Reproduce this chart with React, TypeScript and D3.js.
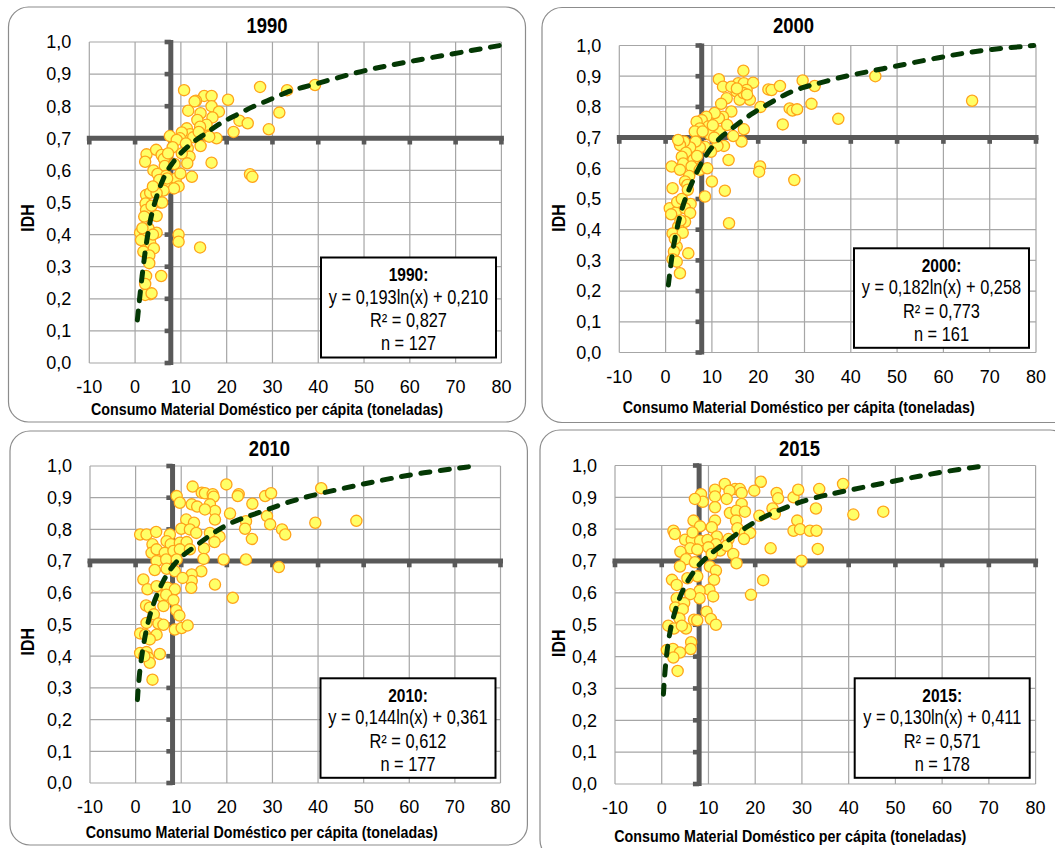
import React from 'react';
import * as d3 from 'd3';

// ---------- DATA ----------
const years = ['1990', '2000', '2010', '2015'];
const equations = ['y = 0,193ln(x) + 0,210', 'y = 0,182ln(x) + 0,258', 'y = 0,144ln(x) + 0,361', 'y = 0,130ln(x) + 0,411'];
const r2Labels = ['R² = 0,827', 'R² = 0,773', 'R² = 0,612', 'R² = 0,571'];
const nLabels = ['n = 127', 'n = 161', 'n = 177', 'n = 178'];
const xTicks = [-10, 0, 10, 20, 30, 40, 50, 60, 70, 80];
const yTicks = [0, 0.1, 0.2, 0.3, 0.4, 0.5, 0.6, 0.7, 0.8, 0.9, 1.0];
const refX = [7.8, 7.8, 8.1, 8.0];
const refY = [0.7, 0.7, 0.7, 0.7];
const xTitle = 'Consumo Material Doméstico per cápita (toneladas)';
const yTitle = 'IDH';

const pts1990: [number, number][] = [
  [10.7, 0.85], [27.3, 0.86], [33.2, 0.85], [39.3, 0.866], [20.3, 0.82], [31.5, 0.78], [22.8, 0.755], [24.6, 0.747],
  [21.5, 0.72], [29.2, 0.728], [16.7, 0.624], [25.1, 0.588], [25.6, 0.58], [12.4, 0.58], [9.5, 0.4], [9.5, 0.378],
  [14.2, 0.36], [5.7, 0.271], [15.1, 0.832], [16.7, 0.832], [13.3, 0.817], [13.0, 0.815], [16.7, 0.8], [18.3, 0.783],
  [11.6, 0.786], [14.3, 0.778], [13.6, 0.757], [16.9, 0.765], [15.6, 0.742], [14.2, 0.736], [17.8, 0.7], [15.9, 0.707],
  [11.3, 0.731], [12.0, 0.713], [12.7, 0.703], [14.3, 0.676], [10.2, 0.718], [9.8, 0.7], [7.6, 0.707], [9.1, 0.695],
  [8.2, 0.672], [11.5, 0.669], [11.9, 0.643], [11.4, 0.622], [10.2, 0.653], [11.1, 0.684], [2.5, 0.65], [2.2, 0.627],
  [4.6, 0.664], [5.8, 0.648], [6.3, 0.636], [7.2, 0.653], [6.5, 0.614], [4.0, 0.6], [4.9, 0.589], [6.8, 0.583],
  [8.9, 0.575], [5.3, 0.57], [9.5, 0.55], [7.2, 0.547], [8.5, 0.544], [6.2, 0.537], [2.4, 0.523], [3.3, 0.53],
  [2.3, 0.497], [4.7, 0.529], [5.5, 0.5], [2.4, 0.477], [4.7, 0.458], [2.0, 0.456], [1.1, 0.406], [2.2, 0.406],
  [4.7, 0.406], [2.0, 0.378], [3.3, 0.375], [4.1, 0.357], [1.8, 0.347], [3.1, 0.335], [3.1, 0.311], [2.4, 0.271],
  [2.2, 0.246], [3.3, 0.214], [2.2, 0.212], [3.6, 0.217], [2.9, 0.42], [3.9, 0.4], [1.3, 0.383], [13.9, 0.72],
  [16.2, 0.705], [8.6, 0.62], [9.9, 0.59], [7.0, 0.575], [5.9, 0.5], [3.6, 0.49], [1.6, 0.42], [3.9, 0.55],
];
const pts2000: [number, number][] = [
  [16.8, 0.918], [11.5, 0.89], [12.4, 0.866], [13.2, 0.828], [15.7, 0.877], [16.9, 0.877], [18.9, 0.879], [15.3, 0.85],
  [17.5, 0.855], [18.2, 0.823], [16.0, 0.823], [14.2, 0.866], [16.8, 0.845], [22.2, 0.857], [22.9, 0.855], [24.7, 0.868],
  [29.6, 0.886], [32.2, 0.868], [45.3, 0.9], [20.5, 0.8], [26.8, 0.795], [27.4, 0.788], [28.4, 0.792], [31.5, 0.81],
  [37.3, 0.761], [25.3, 0.743], [66.2, 0.82], [14.2, 0.785], [12.4, 0.768], [11.5, 0.763], [10.6, 0.78], [8.8, 0.768],
  [7.8, 0.757], [6.7, 0.752], [9.2, 0.736], [7.4, 0.73], [6.3, 0.72], [9.6, 0.709], [11.7, 0.72], [13.3, 0.741],
  [16.9, 0.727], [16.4, 0.687], [14.6, 0.705], [12.6, 0.673], [11.2, 0.673], [9.8, 0.654], [8.5, 0.67], [7.4, 0.668],
  [6.5, 0.687], [5.3, 0.668], [4.0, 0.687], [3.1, 0.676], [2.7, 0.692], [4.4, 0.651], [3.5, 0.638], [6.0, 0.627],
  [3.8, 0.616], [5.6, 0.606], [7.4, 0.595], [1.3, 0.606], [3.1, 0.595], [5.1, 0.575], [4.2, 0.557], [1.5, 0.535],
  [10.0, 0.557], [12.8, 0.527], [13.6, 0.627], [20.4, 0.606], [20.2, 0.589], [27.8, 0.562], [8.5, 0.508], [13.7, 0.421],
  [4.7, 0.546], [5.4, 0.484], [0.9, 0.47], [2.2, 0.456], [4.2, 0.47], [5.3, 0.454], [4.2, 0.426], [2.7, 0.41],
  [1.5, 0.388], [3.7, 0.39], [2.4, 0.345], [1.8, 0.329], [4.9, 0.323], [1.5, 0.304], [2.4, 0.296], [3.1, 0.258],
  [1.2, 0.45], [2.5, 0.49], [3.5, 0.5], [2.0, 0.37], [3.2, 0.43], [4.8, 0.53], [6.8, 0.64], [8.0, 0.72],
  [10.2, 0.74], [12.0, 0.81], [17.6, 0.84], [15.4, 0.86], [9.0, 0.6], [10.5, 0.7],
];
const pts2010: [number, number][] = [
  [12.5, 0.935], [19.9, 0.942], [9.0, 0.905], [9.7, 0.884], [14.5, 0.916], [15.2, 0.914], [16.9, 0.911], [17.1, 0.903],
  [22.6, 0.911], [22.4, 0.905], [28.4, 0.905], [29.7, 0.914], [12.3, 0.879], [13.5, 0.872], [16.3, 0.879], [17.4, 0.858],
  [15.2, 0.863], [20.7, 0.85], [25.6, 0.881], [28.8, 0.842], [29.5, 0.816], [24.2, 0.826], [24.0, 0.802], [25.5, 0.77],
  [32.1, 0.8], [32.8, 0.784], [17.4, 0.831], [11.1, 0.831], [12.8, 0.821], [10.0, 0.802], [11.9, 0.8], [13.3, 0.789],
  [16.3, 0.789], [18.4, 0.777], [17.3, 0.76], [15.0, 0.74], [14.9, 0.707], [14.4, 0.668], [12.3, 0.658], [12.3, 0.637],
  [12.2, 0.616], [17.4, 0.626], [21.3, 0.584], [19.3, 0.705], [24.2, 0.705], [31.4, 0.681], [1.0, 0.784], [2.4, 0.784],
  [4.5, 0.792], [7.5, 0.784], [3.7, 0.753], [6.8, 0.763], [7.7, 0.753], [9.7, 0.758], [11.2, 0.76], [3.5, 0.726],
  [4.6, 0.737], [6.4, 0.726], [8.3, 0.732], [9.7, 0.737], [11.9, 0.737], [4.6, 0.7], [6.7, 0.705], [9.0, 0.705],
  [4.2, 0.672], [6.8, 0.676], [8.6, 0.668], [10.3, 0.647], [1.7, 0.642], [2.6, 0.611], [4.6, 0.621], [7.0, 0.616],
  [8.6, 0.611], [5.7, 0.589], [6.7, 0.594], [8.3, 0.577], [2.3, 0.56], [3.1, 0.553], [6.1, 0.558], [8.9, 0.545],
  [9.6, 0.528], [4.0, 0.532], [2.4, 0.505], [5.0, 0.503], [6.1, 0.499], [8.6, 0.484], [10.1, 0.489], [11.4, 0.497],
  [1.0, 0.472], [2.1, 0.468], [4.6, 0.468], [3.1, 0.453], [1.0, 0.41], [2.4, 0.413], [5.3, 0.407], [2.8, 0.395],
  [3.1, 0.379], [3.7, 0.326], [1.9, 0.4], [48.4, 0.827], [39.4, 0.821], [40.7, 0.93],
];
const pts2015: [number, number][] = [
  [13.5, 0.942], [21.2, 0.949], [11.4, 0.924], [15.7, 0.926], [16.7, 0.926], [14.5, 0.921], [17.1, 0.914], [8.4, 0.91],
  [11.4, 0.903], [13.9, 0.895], [8.8, 0.886], [19.8, 0.921], [24.6, 0.914], [24.9, 0.897], [28.2, 0.9], [29.2, 0.924],
  [33.7, 0.926], [38.8, 0.942], [17.1, 0.879], [11.4, 0.869], [7.1, 0.895], [14.6, 0.851], [16.0, 0.858], [17.8, 0.855],
  [23.7, 0.865], [24.2, 0.848], [20.9, 0.842], [33.0, 0.865], [11.4, 0.827], [10.7, 0.806], [6.8, 0.827], [8.2, 0.809],
  [15.9, 0.827], [16.2, 0.803], [17.8, 0.79], [18.9, 0.788], [29.0, 0.827], [28.2, 0.795], [29.6, 0.8], [31.7, 0.795],
  [33.1, 0.795], [2.5, 0.795], [2.8, 0.785], [5.0, 0.767], [6.4, 0.767], [6.6, 0.79], [11.8, 0.777], [8.2, 0.764],
  [9.8, 0.766], [11.6, 0.753], [14.3, 0.769], [17.6, 0.769], [10.0, 0.743], [12.5, 0.733], [13.9, 0.748], [6.1, 0.74],
  [4.0, 0.729], [7.6, 0.736], [10.7, 0.722], [15.3, 0.722], [5.2, 0.706], [3.9, 0.683], [7.1, 0.696], [10.3, 0.683],
  [16.0, 0.693], [23.3, 0.74], [33.4, 0.738], [29.9, 0.701], [11.6, 0.67], [11.2, 0.641], [7.6, 0.652], [5.5, 0.646],
  [2.2, 0.641], [3.2, 0.625], [21.7, 0.64], [19.1, 0.594], [10.2, 0.61], [11.0, 0.589], [8.1, 0.607], [8.1, 0.583],
  [6.1, 0.596], [3.2, 0.583], [4.8, 0.568], [2.9, 0.554], [4.5, 0.549], [9.6, 0.541], [10.5, 0.518], [11.6, 0.5],
  [6.9, 0.516], [7.6, 0.514], [3.8, 0.52], [1.4, 0.497], [2.6, 0.488], [5.2, 0.488], [4.3, 0.497], [1.1, 0.421],
  [2.4, 0.424], [6.3, 0.445], [6.2, 0.424], [3.9, 0.413], [2.5, 0.397], [3.4, 0.355], [41.0, 0.846], [47.4, 0.855],
];

// trend lines
const trend1990: [number, number][] = [
  [0.5, 0.134], [1.1, 0.217], [1.8, 0.305], [2.5, 0.378], [3.3, 0.446], [4.4, 0.508], [6.2, 0.58], [8.0, 0.622],
  [10.2, 0.658], [12.7, 0.69], [15.6, 0.716], [18.5, 0.747], [22.2, 0.773], [25.8, 0.8], [29.5, 0.82], [33.1, 0.845],
  [36.7, 0.859], [40.4, 0.873], [50.2, 0.913], [59.8, 0.939], [80, 0.99],
];
const trend2000: [number, number][] = [
  [0.6, 0.22], [1.3, 0.312], [2.4, 0.405], [3.8, 0.486], [5.6, 0.551], [7.8, 0.622], [9.9, 0.669], [12.4, 0.709],
  [15.3, 0.741], [18.6, 0.779], [22.5, 0.812], [26.1, 0.844], [29.7, 0.864], [32.6, 0.875], [36.9, 0.893], [40.1, 0.904],
  [45.5, 0.92], [59.6, 0.963], [68.3, 0.985], [79.5, 1.0],
];
const trend2010: [number, number][] = [
  [0.4, 0.263], [0.8, 0.347], [1.7, 0.437], [2.8, 0.516], [4.2, 0.579], [6.1, 0.642], [8.3, 0.689], [10.5, 0.721],
  [12.7, 0.742], [16.0, 0.779], [20.0, 0.816], [23.7, 0.837], [28.1, 0.858], [32.5, 0.882], [36.8, 0.9], [40.0, 0.912],
  [50.4, 0.945], [61.6, 0.977], [74.5, 1.0],
];
const trend2015: [number, number][] = [
  [0.36, 0.282], [0.7, 0.361], [1.4, 0.455], [2.5, 0.528], [3.9, 0.591], [5.7, 0.643], [7.8, 0.687], [10.3, 0.722],
  [13.2, 0.753], [16.4, 0.79], [19.6, 0.821], [23.2, 0.848], [27.4, 0.874], [31.7, 0.895], [36.0, 0.91], [39.6, 0.921],
  [50.6, 0.954], [59.9, 0.98], [69.5, 1.0],
];

const pointSets = [pts1990, pts2000, pts2010, pts2015];
const trendSets = [trend1990, trend2000, trend2010, trend2015];

// ---------- LAYOUT ----------
const layouts = [
  { frame: { x: 8.5, y: 7, w: 517, h: 415 }, plot: { l: 89.3, r: 501.4, t: 42, b: 363 }, title: { x: 267, y: 33 },
    xt: { x: 267, y: 415 }, yt: { x: 27.4, y: 218 }, box: { x: 321, y: 257.5, w: 175, h: 100 } },
  { frame: { x: 542, y: 7.5, w: 530, h: 415 }, plot: { l: 619.3, r: 1036, t: 45.5, b: 352.5 }, title: { x: 793.5, y: 33 },
    xt: { x: 798.7, y: 413 }, yt: { x: 558.5, y: 218 }, box: { x: 854, y: 248.3, w: 175, h: 99.5 } },
  { frame: { x: 10, y: 431, w: 517.4, h: 414 }, plot: { l: 90, r: 500.5, t: 466, b: 783 }, title: { x: 269.4, y: 455.7 },
    xt: { x: 261.8, y: 837.5 }, yt: { x: 27, y: 641.7 }, box: { x: 320.5, y: 678.3, w: 175, h: 99.5 } },
  { frame: { x: 540, y: 430, w: 530, h: 430 }, plot: { l: 615, r: 1035.6, t: 465.5, b: 784 }, title: { x: 799.5, y: 455.7 },
    xt: { x: 790.3, y: 841.5 }, yt: { x: 558.5, y: 643.3 }, box: { x: 854.7, y: 678.3, w: 175, h: 99.5 } },
];

const FONT = "'Liberation Sans', Arial, Helvetica, sans-serif";
const NARROW = 0.84;
const fmt = d3.formatLocale({ decimal: ',', thousands: '.', grouping: [3], currency: ['', ''] }).format('.1f');

const GRID = '#a6a6a6';
const AXIS = '#595959';

function NText({ x, y, size, bold, children, anchor = 'middle' }: any) {
  return (
    <text
      transform={`translate(${x},${y}) scale(${NARROW},1)`}
      textAnchor={anchor}
      fontSize={size}
      fontWeight={bold ? 'bold' : 'normal'}
      fill="#000"
    >
      {children}
    </text>
  );
}

function Panel({ i }: { i: number }) {
  const L = layouts[i];
  const xs = d3.scaleLinear().domain([-10, 80]).range([L.plot.l, L.plot.r]);
  const ys = d3.scaleLinear().domain([0, 1]).range([L.plot.b, L.plot.t]);
  const line = d3
    .line<[number, number]>()
    .x((d) => xs(d[0]))
    .y((d) => ys(d[1]))
    .curve(d3.curveBasis);
  const ax = xs(refX[i]);
  const ay = ys(refY[i]);
  const lineH = [23.6, 46, 69.4, 92.7];
  return (
    <g>
      <rect x={L.frame.x} y={L.frame.y} width={L.frame.w} height={L.frame.h} rx={20} ry={20}
        fill="#fff" stroke="#8c8c8c" strokeWidth={1.2} />
      {/* grid */}
      {xTicks.map((t) => (
        <line key={'gx' + t} x1={xs(t)} x2={xs(t)} y1={L.plot.t} y2={L.plot.b} stroke={GRID} strokeWidth={1.2} />
      ))}
      {yTicks.map((t) => (
        <line key={'gy' + t} x1={L.plot.l} x2={L.plot.r} y1={ys(t)} y2={ys(t)} stroke={GRID} strokeWidth={1.2} />
      ))}
      {/* thick crossing axes */}
      <line x1={L.plot.l - 2.5} x2={L.plot.r + 2.5} y1={ay} y2={ay} stroke={AXIS} strokeWidth={5} />
      {xTicks.map((t) => (
        <rect key={'tx' + t} x={xs(t) - 2.3} y={ay} width={4.6} height={6.2} fill={AXIS} />
      ))}
      <line x1={ax} x2={ax} y1={L.plot.t - 2} y2={L.plot.b + 2} stroke={AXIS} strokeWidth={5} />
      {yTicks.map((t) => (
        <rect key={'ty' + t} x={ax - 6.2} y={ys(t) - 2.3} width={6.2} height={4.6} fill={AXIS} />
      ))}
      {/* tick labels */}
      {yTicks.map((t) => (
        <text key={'ly' + t} x={L.plot.l - 18} y={ys(t) + 6.3} textAnchor="end" fontSize={18} fill="#000">
          {fmt(t)}
        </text>
      ))}
      {xTicks.map((t) => (
        <text key={'lx' + t} x={xs(t)} y={L.plot.b + 30.3} textAnchor="middle" fontSize={18} fill="#000">
          {String(t)}
        </text>
      ))}
      {/* points */}
      {pointSets[i].map((p, k) => (
        <circle key={'p' + k} cx={xs(p[0])} cy={ys(p[1])} r={5.6} fill="#ffff66" stroke="#ffa31a" strokeWidth={1.3} />
      ))}
      {/* trend */}
      <path d={line(trendSets[i]) || ''} fill="none" stroke="#043804" strokeWidth={5}
        strokeDasharray="9 10.5" strokeLinecap="round" />
      {/* titles */}
      <NText x={L.title.x} y={L.title.y} size={22} bold>{years[i]}</NText>
      <NText x={L.xt.x} y={L.xt.y} size={17} bold>{xTitle}</NText>
      <text transform={`translate(${L.yt.x},${L.yt.y}) rotate(-90) scale(0.86,1)`} y={6.5}
        textAnchor="middle" fontSize={18.5} fontWeight="bold" fill="#000">{yTitle}</text>
      {/* equation box */}
      <rect x={L.box.x} y={L.box.y} width={L.box.w} height={L.box.h} fill="#fff" stroke="#000" strokeWidth={2} />
      <NText x={L.box.x + L.box.w / 2} y={L.box.y + lineH[0]} size={18.5} bold>{years[i] + ':'}</NText>
      <NText x={L.box.x + L.box.w / 2} y={L.box.y + lineH[1]} size={19.5}>{equations[i]}</NText>
      <NText x={L.box.x + L.box.w / 2} y={L.box.y + lineH[2]} size={19.5}>{r2Labels[i]}</NText>
      <NText x={L.box.x + L.box.w / 2} y={L.box.y + lineH[3]} size={19.5}>{nLabels[i]}</NText>
    </g>
  );
}

export default function App() {
  return (
    <svg width={1055} height={848} style={{ position: 'absolute', left: 0, top: 0, background: '#fff' }}
      fontFamily={FONT}>
      <rect x={0} y={0} width={1055} height={848} fill="#fff" />
      {[0, 1, 2, 3].map((i) => (
        <Panel key={i} i={i} />
      ))}
    </svg>
  );
}
